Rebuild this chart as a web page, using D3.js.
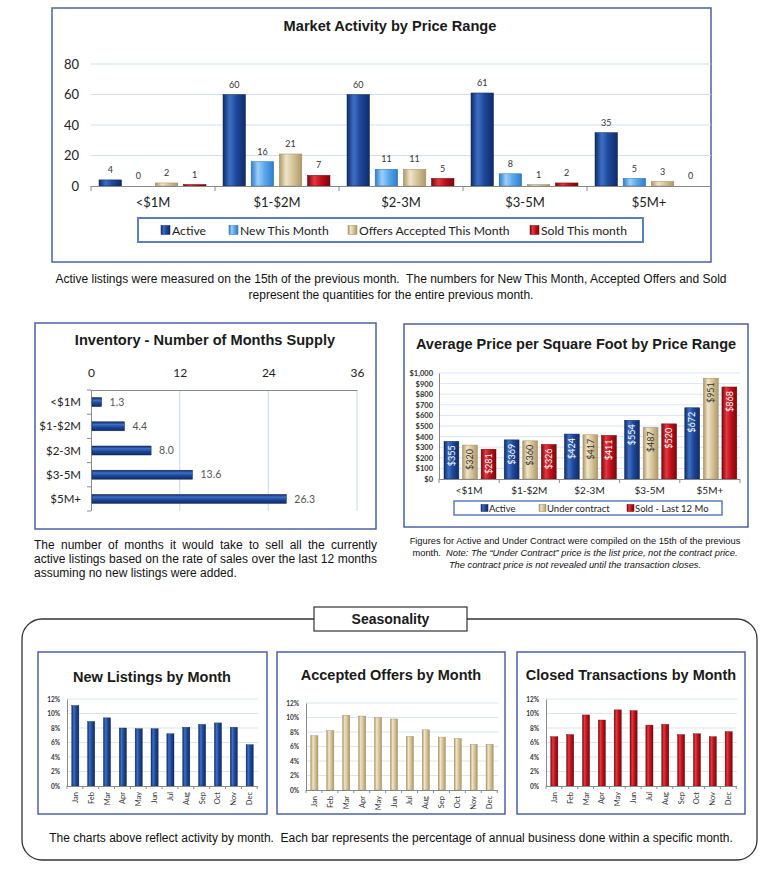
<!DOCTYPE html>
<html>
<head>
<meta charset="utf-8">
<script src="https://cdn.jsdelivr.net/npm/d3@7"></script>
<style>
  body { margin: 0; background: #fff; }
  svg { display: block; font-family: "Liberation Sans", Arial, sans-serif; }
  .lato { font-family: Lato, "Open Sans", sans-serif; }
</style>
</head>
<body>
<svg id="page" width="780" height="871"></svg>
<script>
// ---- data ----
var priceRanges = ["<$1M", "$1-$2M", "$2-3M", "$3-5M", "$5M+"];

var activitySeries = ["Active", "New This Month", "Offers Accepted This Month", "Sold This month"];
var activityActive = [4, 60, 60, 61, 35];
var activityNew    = [0, 16, 11, 8, 5];
var activityOffers = [2, 21, 11, 1, 3];
var activitySold   = [1, 7, 5, 2, 0];
var activityTicks  = [0, 20, 40, 60, 80];

var monthsSupply = [1.3, 4.4, 8.0, 13.6, 26.3];
var supplyTicks  = [0, 12, 24, 36];

var ppsfSeries = ["Active", "Under contract", "Sold - Last 12 Mo"];
var ppsfActive = [355, 369, 424, 554, 672];
var ppsfUnder  = [320, 360, 417, 487, 951];
var ppsfSold   = [281, 326, 411, 520, 868];
var ppsfTicks  = [0, 100, 200, 300, 400, 500, 600, 700, 800, 900, 1000];

var months = ["Jan", "Feb", "Mar", "Apr", "May", "Jun", "Jul", "Aug", "Sep", "Oct", "Nov", "Dec"];
var newListingsPct = [11.1, 8.9, 9.4, 8.0, 7.9, 7.9, 7.2, 8.1, 8.5, 8.7, 8.1, 5.7];
var acceptedPct    = [7.5, 8.2, 10.3, 10.2, 10.0, 9.8, 7.4, 8.3, 7.3, 7.1, 6.3, 6.3];
var closedPct      = [6.8, 7.1, 9.8, 9.1, 10.5, 10.4, 8.4, 8.5, 7.1, 7.2, 6.8, 7.5];
var seasonTicks    = [0, 2, 4, 6, 8, 10, 12];

// ---- colours ----
var pal = {
  blue:  {dark: "#102b69", mid: "#1d4798", light: "#3d6fc6", stroke: "#0f2858"},
  sky:   {dark: "#2c7ccc", mid: "#59a8ec", light: "#9ccff8", stroke: "#2a6fb8"},
  tan:   {dark: "#ad9868", mid: "#d7c499", light: "#f0e5c8", stroke: "#9f8c60"},
  red:   {dark: "#7c070c", mid: "#c0111a", light: "#e2393f", stroke: "#6e060a"}
};
var frameColor = "#4a62a8";

var svg = d3.select("#page");
svg.append("rect").attr("width", 780).attr("height", 871).attr("fill", "#fff");
var defs = svg.append("defs");

function grad(id, c, vertical) {
  var g = defs.append("linearGradient").attr("id", id)
    .attr("x1", 0).attr("y1", 0)
    .attr("x2", vertical ? 0 : 1).attr("y2", vertical ? 1 : 0);
  [[0, c.dark], [0.3, c.light], [0.6, c.mid], [1, c.dark]].forEach(function(s) {
    g.append("stop").attr("offset", s[0]).attr("stop-color", s[1]);
  });
}
Object.keys(pal).forEach(function(k) {
  grad("h-" + k, pal[k], false);
  grad("v-" + k, pal[k], true);
});

function frame(x, y, w, h) {
  svg.append("rect").attr("x", x).attr("y", y).attr("width", w).attr("height", h)
    .attr("fill", "#fff").attr("stroke", frameColor).attr("stroke-width", 1.5);
}

// =========== Market Activity by Price Range ===========
frame(52, 8, 659, 254);
svg.append("text").attr("x", 390).attr("y", 31).attr("text-anchor", "middle")
  .attr("font-size", 14.6).attr("font-weight", "bold").attr("fill", "#1a1a1a")
  .text("Market Activity by Price Range");

var yA = d3.scaleLinear().domain([0, 80]).range([186, 64]);
var xA = d3.scaleBand().domain(priceRanges).range([91, 711]);
var xA1 = d3.scaleBand().domain(activitySeries).range([8, 115]).paddingInner(0.2);
var activityData = [activityActive, activityNew, activityOffers, activitySold];
var activityCols = ["blue", "sky", "tan", "red"];

svg.append("g").selectAll("line").data(activityTicks.slice(1)).join("line")
  .attr("x1", 91).attr("x2", 711).attr("y1", d => yA(d)).attr("y2", d => yA(d))
  .attr("stroke", "#d2dff0").attr("stroke-width", 1.2);

var yAxA = svg.append("g").attr("class", "lato").attr("transform", "translate(91,0)")
  .call(d3.axisLeft(yA).tickValues(activityTicks).tickSize(0).tickPadding(12));
yAxA.select(".domain").remove();
yAxA.selectAll("text").attr("font-size", 13).attr("fill", "#222");

activityData.forEach(function(vals, si) {
  var g = svg.append("g");
  var rows = priceRanges.map((c, i) => ({c: c, v: vals[i]}));
  g.selectAll("rect").data(rows.filter(d => d.v > 0)).join("rect")
    .attr("x", d => xA(d.c) + xA1(activitySeries[si]))
    .attr("y", d => yA(d.v))
    .attr("width", xA1.bandwidth())
    .attr("height", d => yA(0) - yA(d.v))
    .attr("fill", "url(#h-" + activityCols[si] + ")")
    .attr("stroke", pal[activityCols[si]].stroke).attr("stroke-width", 0.5);
  g.selectAll("text").data(rows).join("text").attr("class", "lato")
    .attr("x", d => xA(d.c) + xA1(activitySeries[si]) + xA1.bandwidth() / 2)
    .attr("y", d => yA(d.v) - 10).attr("dy", "0.35em")
    .attr("text-anchor", "middle").attr("font-size", 9).attr("fill", "#333")
    .text(d => d.v);
});

svg.append("line").attr("x1", 91).attr("x2", 711).attr("y1", 186.5).attr("y2", 186.5)
  .attr("stroke", "#8a8a8a");
svg.append("g").selectAll("line").data(d3.range(priceRanges.length + 1)).join("line")
  .attr("x1", i => 91 + i * xA.bandwidth()).attr("x2", i => 91 + i * xA.bandwidth())
  .attr("y1", 186).attr("y2", 191).attr("stroke", "#8a8a8a");
svg.append("g").selectAll("text").data(priceRanges).join("text").attr("class", "lato")
  .attr("x", d => xA(d) + xA.bandwidth() / 2).attr("y", 207)
  .attr("text-anchor", "middle").attr("font-size", 13).attr("fill", "#222").text(d => d);

// legend
svg.append("rect").attr("x", 138).attr("y", 218).attr("width", 505).attr("height", 24)
  .attr("fill", "#fff").attr("stroke", "#5b7fbf").attr("stroke-width", 2);
var legA = [161, 229, 348, 530];
activitySeries.forEach(function(s, i) {
  svg.append("rect").attr("x", legA[i]).attr("y", 225.5).attr("width", 9).attr("height", 9)
    .attr("fill", "url(#h-" + activityCols[i] + ")").attr("stroke", pal[activityCols[i]].stroke)
    .attr("stroke-width", 0.5);
  svg.append("text").attr("class", "lato").attr("x", legA[i] + 11).attr("y", 234.5)
    .attr("font-size", 12.2).attr("fill", "#222").text(s);
});

svg.append("g").selectAll("text").data([
  "Active listings were measured on the 15th of the previous month.  The numbers for New This Month, Accepted Offers and Sold",
  "represent the quantities for the entire previous month."
]).join("text").attr("x", 391).attr("y", (d, i) => 283 + i * 15.5)
  .attr("text-anchor", "middle").attr("font-size", 12).attr("fill", "#111")
  .style("white-space", "pre").text(d => d);

// =========== Inventory - Number of Months Supply ===========
frame(35, 323, 341, 206);
svg.append("text").attr("x", 205).attr("y", 345).attr("text-anchor", "middle")
  .attr("font-size", 14.6).attr("font-weight", "bold").attr("fill", "#1a1a1a")
  .text("Inventory - Number of Months Supply");

var xI = d3.scaleLinear().domain([0, 36]).range([91, 357]);
var yI = d3.scaleBand().domain(priceRanges).range([390, 511]);

svg.append("g").selectAll("line").data(supplyTicks.slice(1)).join("line")
  .attr("x1", d => xI(d)).attr("x2", d => xI(d)).attr("y1", 390).attr("y2", 511)
  .attr("stroke", "#d2dff0").attr("stroke-width", 1.2);
var xAxI = svg.append("g").attr("class", "lato").attr("transform", "translate(0,390)")
  .call(d3.axisTop(xI).tickValues(supplyTicks).tickSize(0).tickSizeOuter(0).tickPadding(13));
xAxI.select(".domain").attr("stroke", "#8a8a8a");
xAxI.selectAll("text").attr("font-size", 12).attr("fill", "#222");

svg.append("line").attr("x1", 91.5).attr("x2", 91.5).attr("y1", 390).attr("y2", 511).attr("stroke", "#8a8a8a");
svg.append("g").selectAll("line").data(d3.range(priceRanges.length + 1)).join("line")
  .attr("x1", 87).attr("x2", 91)
  .attr("y1", i => 390 + i * yI.bandwidth()).attr("y2", i => 390 + i * yI.bandwidth())
  .attr("stroke", "#8a8a8a");

var supplyRows = priceRanges.map((c, i) => ({c: c, v: monthsSupply[i]}));
svg.append("g").selectAll("rect").data(supplyRows).join("rect")
  .attr("x", xI(0) + 1).attr("y", d => yI(d.c) + yI.bandwidth() / 2 - 4.5)
  .attr("width", d => xI(d.v) - xI(0)).attr("height", 9)
  .attr("fill", "url(#v-blue)").attr("stroke", pal.blue.stroke).attr("stroke-width", 0.5);
svg.append("g").selectAll("text").data(supplyRows).join("text").attr("class", "lato")
  .attr("x", d => xI(d.v) + 9).attr("y", d => yI(d.c) + yI.bandwidth() / 2).attr("dy", "0.35em")
  .attr("font-size", 10.5).attr("fill", "#555").text(d => d3.format(".1f")(d.v));
svg.append("g").selectAll("text").data(priceRanges).join("text").attr("class", "lato")
  .attr("x", 81).attr("y", d => yI(d) + yI.bandwidth() / 2).attr("dy", "0.35em")
  .attr("text-anchor", "end").attr("font-size", 11.5).attr("fill", "#222").text(d => d);

// justified caption
var invLines = [
  "The number of months it would take to sell all the currently",
  "active listings based on the rate of sales over the last 12 months",
  "assuming no new listings were added."
];
invLines.forEach(function(t, i) {
  var tx = svg.append("text").attr("x", 34).attr("y", 549 + i * 14.2)
    .attr("font-size", 12).attr("fill", "#111").text(t);
  if (i < 2) {
    var natural = tx.node().getComputedTextLength();
    var gaps = t.split(" ").length - 1;
    tx.style("word-spacing", ((343 - natural) / gaps) + "px");
  }
});

// =========== Average Price per Square Foot ===========
frame(404, 324, 344, 203);
svg.append("text").attr("x", 576).attr("y", 349).attr("text-anchor", "middle")
  .attr("font-size", 14.5).attr("font-weight", "bold").attr("fill", "#1a1a1a")
  .text("Average Price per Square Foot by Price Range");

var yP = d3.scaleLinear().domain([0, 1000]).range([479, 373]);
var xP = d3.scaleBand().domain(priceRanges).range([439, 740]);
var xP1 = d3.scaleBand().domain(ppsfSeries).range([5, 57]).paddingInner(0.2);
var ppsfData = [ppsfActive, ppsfUnder, ppsfSold];
var ppsfCols = ["blue", "tan", "red"];

svg.append("g").selectAll("line").data(ppsfTicks.slice(1)).join("line")
  .attr("x1", 439).attr("x2", 740).attr("y1", d => yP(d)).attr("y2", d => yP(d))
  .attr("stroke", "#dbe5f2").attr("stroke-width", 1);
var yAxP = svg.append("g").attr("class", "lato").attr("transform", "translate(439,0)")
  .call(d3.axisLeft(yP).tickValues(ppsfTicks).tickFormat(d => "$" + d3.format(",")(d))
    .tickSize(0).tickPadding(6));
yAxP.select(".domain").attr("stroke", "#8a8a8a");
yAxP.selectAll("text").attr("font-size", 7.5).attr("font-weight", "bold").attr("fill", "#333");

ppsfData.forEach(function(vals, si) {
  var g = svg.append("g");
  var rows = priceRanges.map((c, i) => ({c: c, v: vals[i]}));
  g.selectAll("rect").data(rows).join("rect")
    .attr("x", d => xP(d.c) + xP1(ppsfSeries[si]))
    .attr("y", d => yP(d.v))
    .attr("width", xP1.bandwidth())
    .attr("height", d => yP(0) - yP(d.v))
    .attr("fill", "url(#h-" + ppsfCols[si] + ")")
    .attr("stroke", pal[ppsfCols[si]].stroke).attr("stroke-width", 0.5);
  g.selectAll("text").data(rows).join("text").attr("class", "lato")
    .attr("transform", d => "translate(" + (xP(d.c) + xP1(ppsfSeries[si]) + xP1.bandwidth() / 2 + 3.2) +
      "," + (yP(d.v) + 4) + ") rotate(-90)")
    .attr("text-anchor", "end").attr("font-size", 9)
    .attr("fill", si === 1 ? "#333" : "#fff").text(d => "$" + d.v);
});

svg.append("line").attr("x1", 439).attr("x2", 740).attr("y1", 479.5).attr("y2", 479.5).attr("stroke", "#8a8a8a");
svg.append("g").selectAll("line").data(d3.range(priceRanges.length + 1)).join("line")
  .attr("x1", i => 439 + i * xP.bandwidth()).attr("x2", i => 439 + i * xP.bandwidth())
  .attr("y1", 479).attr("y2", 483).attr("stroke", "#8a8a8a");
svg.append("g").selectAll("text").data(priceRanges).join("text").attr("class", "lato")
  .attr("x", d => xP(d) + xP.bandwidth() / 2).attr("y", 494)
  .attr("text-anchor", "middle").attr("font-size", 10).attr("fill", "#222").text(d => d);

svg.append("rect").attr("x", 454).attr("y", 501).attr("width", 268).attr("height", 14)
  .attr("fill", "#fff").attr("stroke", "#5b7fbf").attr("stroke-width", 1.5);
var legP = [481, 539, 627];
ppsfSeries.forEach(function(s, i) {
  svg.append("rect").attr("x", legP[i]).attr("y", 504.5).attr("width", 7).attr("height", 7)
    .attr("fill", "url(#h-" + ppsfCols[i] + ")").attr("stroke", pal[ppsfCols[i]].stroke)
    .attr("stroke-width", 0.5);
  svg.append("text").attr("class", "lato").attr("x", legP[i] + 8).attr("y", 511.5)
    .attr("font-size", 9.5).attr("fill", "#222").text(s);
});

svg.append("text").attr("x", 575).attr("y", 544).attr("text-anchor", "middle")
  .attr("font-size", 9.3).attr("fill", "#111")
  .text("Figures for Active and Under Contract were compiled on the 15th of the previous");
var pc2 = svg.append("text").attr("x", 575).attr("y", 556).attr("text-anchor", "middle")
  .attr("font-size", 9.3).attr("fill", "#111").style("white-space", "pre");
pc2.append("tspan").text("month.  ");
pc2.append("tspan").attr("font-style", "italic")
  .text("Note: The \u201CUnder Contract\u201D price is the list price, not the contract price.");
svg.append("text").attr("x", 575).attr("y", 568).attr("text-anchor", "middle")
  .attr("font-size", 9.3).attr("font-style", "italic").attr("fill", "#111")
  .text("The contract price is not revealed until the transaction closes.");

// =========== Seasonality ===========
svg.append("rect").attr("x", 22).attr("y", 619).attr("width", 735).attr("height", 241)
  .attr("rx", 20).attr("fill", "none").attr("stroke", "#333").attr("stroke-width", 1.3);
svg.append("rect").attr("x", 314).attr("y", 607).attr("width", 153).attr("height", 24)
  .attr("fill", "#fff").attr("stroke", "#333").attr("stroke-width", 1.2);
svg.append("text").attr("x", 390.5).attr("y", 624).attr("text-anchor", "middle")
  .attr("font-size", 14).attr("font-weight", "bold").attr("fill", "#1a1a1a").text("Seasonality");

var seasonCharts = [
  {title: "New Listings by Month", vals: newListingsPct, col: "blue",
   box: [38, 652, 229, 162], tx: 152, ty: 682, x0: 67, x1: 258, y0: 786, y1: 699},
  {title: "Accepted Offers by Month", vals: acceptedPct, col: "tan",
   box: [277, 652, 228, 162], tx: 391, ty: 680, x0: 306, x1: 498, y0: 790, y1: 703},
  {title: "Closed Transactions by Month", vals: closedPct, col: "red",
   box: [517, 652, 228, 162], tx: 631, ty: 680, x0: 546, x1: 737, y0: 786, y1: 699}
];

seasonCharts.forEach(function(c) {
  frame(c.box[0], c.box[1], c.box[2], c.box[3]);
  svg.append("text").attr("x", c.tx).attr("y", c.ty).attr("text-anchor", "middle")
    .attr("font-size", 14.5).attr("font-weight", "bold").attr("fill", "#1a1a1a").text(c.title);

  var y = d3.scaleLinear().domain([0, 12]).range([c.y0, c.y1]);
  var x = d3.scaleBand().domain(months).range([c.x0, c.x1]).paddingInner(0.55).paddingOuter(0.3);

  svg.append("g").selectAll("line").data(seasonTicks.slice(1)).join("line")
    .attr("x1", c.x0).attr("x2", c.x1).attr("y1", d => y(d)).attr("y2", d => y(d))
    .attr("stroke", "#dbe5f2");
  var ya = svg.append("g").attr("class", "lato").attr("transform", "translate(" + c.x0 + ",0)")
    .call(d3.axisLeft(y).tickValues(seasonTicks).tickFormat(d => d + "%").tickSize(0).tickPadding(7));
  ya.select(".domain").attr("stroke", "#8a8a8a");
  ya.selectAll("text").attr("font-size", 6.5).attr("font-weight", "bold").attr("fill", "#333");

  var rows = months.map((m, i) => ({m: m, v: c.vals[i]}));
  svg.append("g").selectAll("rect").data(rows).join("rect")
    .attr("x", d => x(d.m)).attr("y", d => y(d.v))
    .attr("width", x.bandwidth()).attr("height", d => y(0) - y(d.v))
    .attr("fill", "url(#h-" + c.col + ")").attr("stroke", pal[c.col].stroke).attr("stroke-width", 0.4);

  svg.append("line").attr("x1", c.x0).attr("x2", c.x1).attr("y1", c.y0 + 0.5).attr("y2", c.y0 + 0.5)
    .attr("stroke", "#8a8a8a");
  svg.append("g").selectAll("line").data(d3.range(months.length + 1)).join("line")
    .attr("x1", i => c.x0 + i * x.step()).attr("x2", i => c.x0 + i * x.step())
    .attr("y1", c.y0).attr("y2", c.y0 + 3).attr("stroke", "#8a8a8a");
  svg.append("g").selectAll("text").data(months).join("text").attr("class", "lato")
    .attr("transform", d => "translate(" + (x(d) + x.bandwidth() / 2 + 2.5) + "," + (c.y0 + 6) + ") rotate(-90)")
    .attr("text-anchor", "end").attr("font-size", 7.5).attr("fill", "#333").text(d => d);
});

svg.append("text").attr("x", 391).attr("y", 842).attr("text-anchor", "middle")
  .attr("font-size", 12).attr("fill", "#111").style("white-space", "pre")
  .text("The charts above reflect activity by month.  Each bar represents the percentage of annual business done within a specific month.");
</script>
</body>
</html>
